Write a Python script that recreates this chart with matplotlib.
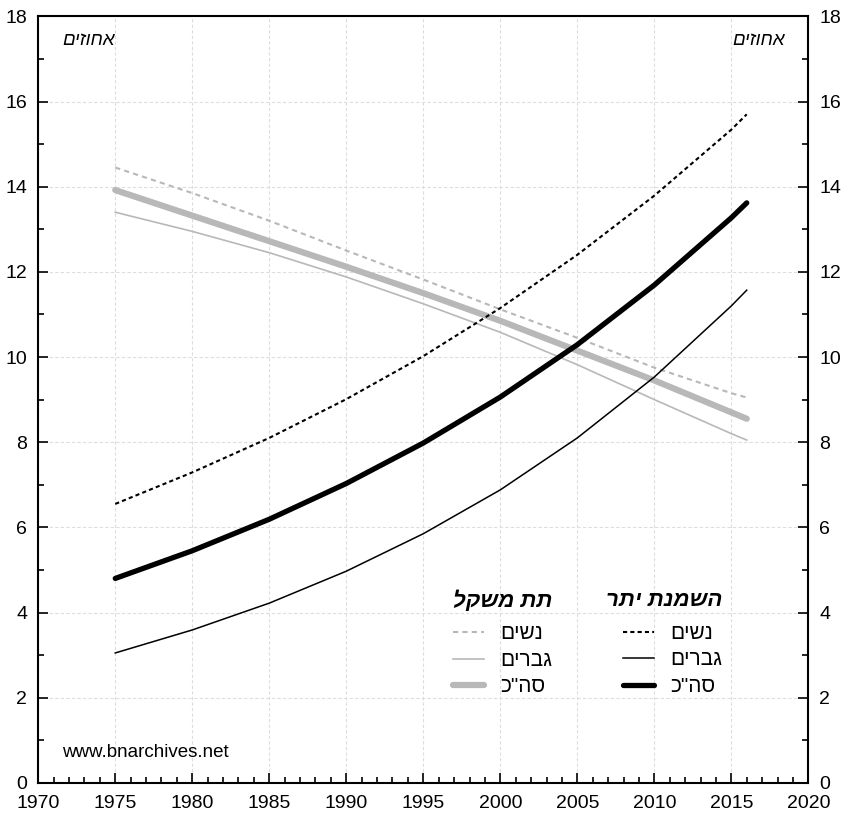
import matplotlib.pyplot as plt
from matplotlib.ticker import MultipleLocator

plt.rcParams['font.family'] = ['Liberation Sans', 'DejaVu Sans']

# Hebrew text is written reversed (matplotlib has no bidi support)
def heb(s):
    return s[::-1]

years = [1975, 1980, 1985, 1990, 1995, 2000, 2005, 2010, 2015, 2016]

# overweight (השמנת יתר)
over_women = [6.55, 7.29, 8.10, 9.01, 10.02, 11.15, 12.40, 13.79, 15.34, 15.70]
over_men = [3.05, 3.59, 4.22, 4.97, 5.85, 6.88, 8.10, 9.53, 11.20, 11.57]
over_total = [4.80, 5.45, 6.19, 7.03, 7.98, 9.06, 10.29, 11.69, 13.27, 13.62]

# underweight (תת משקל)
under_women = [14.45, 13.85, 13.20, 12.50, 11.82, 11.12, 10.45, 9.75, 9.15, 9.05]
under_men = [13.40, 12.95, 12.45, 11.88, 11.25, 10.58, 9.82, 9.00, 8.20, 8.05]
under_total = [13.92, 13.32, 12.72, 12.12, 11.50, 10.85, 10.15, 9.45, 8.70, 8.55]

fig = plt.figure(figsize=(8.5, 8.18), dpi=100)
ax = fig.add_axes([0.045, 0.043, 0.906, 0.937])

grey = '#b8b8b8'
l_uw, = ax.plot(years, under_women, color=grey, lw=1.5, ls=(0, (2.5, 2)))
l_um, = ax.plot(years, under_men, color=grey, lw=1.2)
l_ut, = ax.plot(years, under_total, color=grey, lw=4.5, solid_capstyle='round')
l_ow, = ax.plot(years, over_women, color='black', lw=1.5, ls=(0, (2, 1.5)))
l_om, = ax.plot(years, over_men, color='black', lw=1.1)
l_ot, = ax.plot(years, over_total, color='black', lw=3.8, solid_capstyle='round')

ax.set_xlim(1970, 2020)
ax.set_ylim(0, 18)
ax.xaxis.set_major_locator(MultipleLocator(5))
ax.xaxis.set_minor_locator(MultipleLocator(1))
ax.yaxis.set_major_locator(MultipleLocator(2))
ax.yaxis.set_minor_locator(MultipleLocator(1))
ax.tick_params(which='both', direction='in', left=True, right=True, top=False,
               labelleft=True, labelright=True, labelsize=14, width=1.2)
ax.tick_params(which='major', length=7)
ax.tick_params(which='minor', length=4)
ax.tick_params(axis='x', which='major', pad=9)
ax.tick_params(axis='y', which='major', pad=8)
ax.grid(True, which='major', color='#dddddd', ls=(0, (3, 2)), lw=0.8)
ax.set_axisbelow(True)
for sp in ax.spines.values():
    sp.set_linewidth(1.5)

ax.text(0.031, 0.968, heb('אחוזים'), transform=ax.transAxes, fontsize=13.5,
        style='italic', ha='left', va='center')
ax.text(0.970, 0.968, heb('אחוזים'), transform=ax.transAxes, fontsize=13.5,
        style='italic', ha='right', va='center')
ax.text(0.031, 0.040, 'www.bnarchives.net', transform=ax.transAxes, fontsize=13.5,
        ha='left', va='center')

labels = [heb('נשים'), heb('גברים'), heb('סה"כ')]
title_font = {'weight': 'bold', 'style': 'italic', 'size': 16}

leg_kw = dict(title_fontproperties=title_font, alignment='right',
              loc='upper right', frameon=False, fontsize=15, handlelength=1.5,
              handletextpad=0.75, labelspacing=0.36, borderpad=0,
              borderaxespad=0)

leg1 = ax.legend([l_ow, l_om, l_ot], labels, title=heb('השמנת יתר'),
                 bbox_to_anchor=(0.888, 0.251), **leg_kw)
leg1._legend_box.sep = 9
ax.add_artist(leg1)
leg2 = ax.legend([l_uw, l_um, l_ut], labels, title=heb('תת משקל'),
                 bbox_to_anchor=(0.667, 0.251), **leg_kw)
leg2._legend_box.sep = 9

fig.savefig('out.png', dpi=100)
